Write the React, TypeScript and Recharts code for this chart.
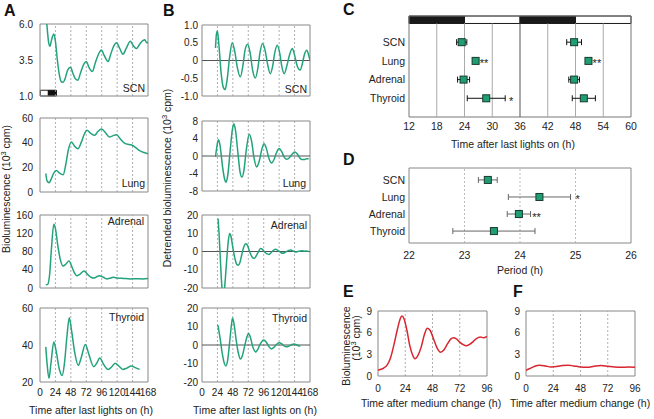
import React from 'react';
import {
  LineChart, Line, XAxis, YAxis, ReferenceArea, ReferenceLine,
  ScatterChart, Scatter, ErrorBar,
} from 'recharts';

const FONT = '"Liberation Sans", Arial, Helvetica, sans-serif';
const GREEN = '#22a37c';
const RED = '#d7262f';
const MARK = '#1f9e74';
const TXT = '#222';
const MT = 8, MR = 14, MB = 6;

type Pt = [number, number];

// ---------- Panel A: raw bioluminescence (h, 10^3 cpm) ----------
const scnRaw: Pt[] = [[10, 6.3], [12, 5.3], [13.5, 4.7], [15.5, 4.45], [18, 4.9], [21.5, 5.3], [24, 4.8], [27, 3.5], [30, 2.5], [33, 2.0], [36, 1.95], [39, 2.2], [43, 2.8], [47.5, 3.0], [51, 2.6], [55, 2.2], [59, 2.1], [63, 2.6], [68, 3.2], [72, 3.4], [76, 3.0], [81.5, 2.7], [86, 3.3], [91, 3.9], [95.5, 4.2], [100, 3.8], [106, 3.4], [110, 3.9], [115, 4.5], [119, 4.7], [124, 4.3], [129, 3.9], [134, 4.3], [140.5, 4.8], [145, 4.5], [150, 4.3], [155, 4.6], [160, 4.85], [163, 4.9], [166, 4.7], [168, 4.75]];
const lungRaw: Pt[] = [[9, 15], [11, 9], [14, 7.5], [17, 10], [21, 15], [25.5, 17.5], [30, 15.5], [36, 14], [40, 22], [44, 34], [49, 40.5], [54, 37], [59, 35], [64, 40], [69, 47], [73, 50], [79, 47.5], [85, 46], [90, 49], [96, 51], [102, 48], [108, 44.6], [113, 45.5], [119, 46.5], [125, 43], [132, 39.5], [139, 38.5], [145, 37.5], [150, 35.5], [155, 33.5], [162, 32], [168, 31]];
const adrenalRaw: Pt[] = [[9, 7], [12, 8], [15, 30], [18, 90], [21.5, 140], [24, 130], [28, 90], [32, 60], [36, 48], [40, 52], [45, 59], [50, 45], [54, 32], [57, 27], [62, 30], [68.5, 37], [74, 30], [80, 23], [84, 22], [92, 27], [98, 24], [104, 20], [110, 22], [114, 23.5], [120, 22], [130, 21], [140, 20], [150, 20.5], [160, 20], [168, 21]];
const thyroidRaw: Pt[] = [[9, 39], [11, 30], [14, 22], [17, 30], [21.5, 41.6], [25, 37], [30, 27], [34.5, 23.5], [38, 30], [42, 45], [45.5, 54.7], [49, 48], [54, 36], [59.5, 29], [64, 33], [70.5, 40.3], [76, 35], [83.5, 28.3], [88, 30], [93, 33], [99, 29.5], [106, 26.8], [111, 28], [117, 30.2], [123, 28.5], [129, 26.8], [135, 27.5], [142, 28.7], [148, 27.8], [155, 26.8]];

// ---------- Panel B: detrended ----------
const scnDet: Pt[] = [[21, 0.35], [22.5, 0.75], [24, 0.83], [26, 0.5], [30, -0.4], [33, -0.75], [36, -0.82], [39, -0.55], [43, 0.1], [47, 0.5], [51, 0.25], [55, -0.2], [59.5, -0.46], [64, -0.1], [67, 0.3], [71, 0.46], [75, 0.2], [79, -0.3], [83, -0.49], [87, -0.2], [90, 0.2], [94, 0.48], [98, 0.3], [102, -0.1], [106, -0.37], [110, -0.15], [113, 0.2], [117, 0.43], [121, 0.2], [124, -0.15], [128, -0.37], [132, -0.15], [136, 0.15], [140.5, 0.34], [144, 0.15], [148, -0.15], [152.5, -0.27], [156, -0.1], [159, 0.15], [163, 0.29], [166, 0.15], [168, 0]];
const lungDet: Pt[] = [[21, -0.2], [23, 2], [25.5, 3.7], [28, 2.5], [32, -2.5], [35, -5.2], [37.5, -6], [40, -4.5], [44, 1.5], [47, 5.8], [49.5, 7.4], [52, 6], [56, 0.5], [59, -3.5], [62, -4.8], [65, -3.5], [69, 1.5], [73.5, 5], [77, 3.5], [81, -0.5], [85, -2.5], [89, -1.2], [93, 1.5], [96.5, 2.8], [100, 1.8], [104, -0.5], [108.5, -1.6], [112, -0.8], [116, 0.8], [120, 1.7], [124, 1.0], [128, -0.3], [132, -0.76], [136, -0.4], [140, 0.4], [144.5, 0.9], [148, 0.5], [152, -0.4], [155, -0.8], [159, -0.8], [163, -0.6], [166, -0.6]];
const adrenalDet: Pt[] = [[25, 18], [26.5, 10], [28.5, -4], [30.5, -17], [32.5, -24], [34.5, -22], [36.5, -14], [39, -2], [41, 6], [43, 9.9], [45, 8.5], [48, 2], [51, -3.5], [54, -7], [56.5, -7.6], [59, -6], [62, -1.5], [65, 2.5], [68, 4.3], [71, 3.2], [74, 0], [77.5, -2.8], [81, -3.8], [84, -2.6], [87.5, -0.3], [91, 1.6], [94, 1.2], [97, -0.2], [100.5, -1.2], [104, -1.6], [107, -0.8], [110, 0.3], [114, 1.2], [117, 0.9], [120, 0], [123, -0.7], [126, -1], [129, -0.5], [132, 0.1], [135, 0.6], [138, 0.8], [141, 0.4], [144, -0.2], [147, -0.3], [150, 0.1], [153, 0.3], [156, 0.4], [159, 0.2], [162, 0.3], [166, 0]];
const thyroidDet: Pt[] = [[24, 10], [25, 10.5], [26, 8.2], [28, 4], [31, -3.5], [34, -9], [37, -11.3], [40, -8], [43, 1.5], [45.5, 10], [47.5, 14.6], [50, 11], [53, 3], [56, -3.5], [60, -7.6], [63, -5.5], [67, 0.5], [70, 4.5], [72.5, 6.2], [75, 4.5], [79, -1], [83.5, -3.8], [87, -2.2], [91, 0.8], [96, 2.7], [100, 1.5], [104, -0.8], [108, -2.1], [112, -1.2], [116, 0.3], [120, 1.2], [124, 0.6], [127, -0.3], [131, -1], [135, -0.6], [139, 0.1], [143, 0.6], [147, 0.2], [150, -0.4], [153, -0.6]];

// ---------- Panels E/F: medium change ----------
const mediumE: Pt[] = [[0, 0.8], [2, 0.9], [5, 1.1], [8, 1.5], [11, 2.5], [14, 4.3], [17, 6.4], [19.5, 7.9], [21, 8.3], [23, 7.9], [25.5, 6.3], [28, 4.2], [30.5, 2.9], [32.5, 2.4], [35, 2.8], [38, 4.0], [41, 5.8], [43.5, 6.6], [46, 6.3], [49, 5.1], [52, 3.9], [55, 3.3], [58, 3.6], [61, 4.4], [64, 5.1], [66.5, 5.3], [69, 5.15], [72, 4.7], [75, 4.35], [78, 4.2], [81, 4.4], [84, 4.8], [87, 5.2], [90, 5.4], [93, 5.3], [96, 5.5]];
const mediumF: Pt[] = [[0, 0.8], [3, 1.0], [7, 1.3], [12, 1.5], [17, 1.4], [22, 1.25], [27, 1.3], [32, 1.45], [37, 1.5], [42, 1.4], [48, 1.25], [54, 1.2], [60, 1.35], [66, 1.45], [72, 1.35], [78, 1.25], [84, 1.2], [90, 1.25], [96, 1.2]];

// ---------- Panels C/D ----------
const organs = ['SCN', 'Lung', 'Adrenal', 'Thyroid'];
const peak1 = [23.4, 26.4, 23.8, 28.7];
const peak1Err = [1.1, 0.3, 1.3, 4.1];
const peak2 = [47.7, 50.8, 47.7, 49.8];
const peak2Err = [1.6, 0.3, 1.15, 2.5];
const periodMean = [23.42, 24.35, 23.98, 23.53];
const periodErr = [0.17, 0.56, 0.21, 0.74];
const starsC = [{ x: 27.3, y: 2, mark: '**' }, { x: 51.7, y: 2, mark: '**' }, { x: 33.6, y: 4, mark: '*' }];
const starsD = [{ x: 25.0, y: 2, mark: '*' }, { x: 24.22, y: 3, mark: '**' }];

const timeTicks = [0, 24, 48, 72, 96, 120, 144, 168];
const timeGrid = [24, 48, 72, 96, 120, 144];
const phaseTicks = [12, 18, 24, 30, 36, 42, 48, 54, 60];
const phaseGrid = [18, 24, 30, 42, 48, 54];
const periodTicks = [22, 23, 24, 25, 26];
const periodGrid = [23, 24, 25];
const mediumTicks = [0, 24, 48, 72, 96];
const mediumGrid = [24, 48, 72];
const mediumYTicks = [0, 3, 6, 9];

const rows = (pts: Pt[]) => pts.map(([h, v]) => ({ h, v }));
const tickStyle = { fontSize: 10, fill: TXT, fontFamily: FONT };

interface PanelProps {
  x0: number; y0: number; x1: number; y1: number;
  pts: Pt[];
  xDomain: [number, number]; xTicks: number[]; showX: boolean; xTm?: number;
  yDomain: [number, number]; yTicks: number[]; yTm: number; yw: number;
  yFmt?: (v: number) => string;
  grid: number[]; color: string; zero?: boolean; extra?: React.ReactNode[];
}

function TracePanel(p: PanelProps) {
  const xh = p.showX ? 22 : 0;
  const W = p.x1 - p.x0 + p.yw + MR;
  const H = p.y1 - p.y0 + MT + xh + MB;
  return (
    <div style={{ position: 'absolute', left: p.x0 - p.yw, top: p.y0 - MT }}>
      <LineChart width={W} height={H} data={rows(p.pts)} margin={{ top: MT, right: MR, bottom: MB, left: 0 }}>
        <XAxis type="number" dataKey="h" domain={p.xDomain} ticks={p.xTicks} allowDataOverflow
          height={xh} tick={p.showX ? tickStyle : false} tickLine={false} axisLine={false}
          tickSize={0} tickMargin={p.xTm ?? 7} interval={0} />
        <YAxis type="number" domain={p.yDomain} ticks={p.yTicks} allowDataOverflow width={p.yw}
          tick={tickStyle} tickLine={false} axisLine={false} tickSize={0} tickMargin={p.yTm}
          interval={0} tickFormatter={p.yFmt} />
        {p.grid.map((g) => (
          <ReferenceLine key={'g' + g} x={g} stroke="#9a9a9a" strokeDasharray="2 2" strokeWidth={0.8} />
        ))}
        {p.zero ? <ReferenceLine y={0} stroke="#555" strokeWidth={1} /> : null}
        {p.extra ?? null}
        <ReferenceArea x1={p.xDomain[0]} x2={p.xDomain[1]} y1={p.yDomain[0]} y2={p.yDomain[1]}
          fill="none" fillOpacity={0} stroke="#888" strokeWidth={1} ifOverflow="visible" />
        <Line type="monotone" dataKey="v" stroke={p.color} strokeWidth={1.5} dot={false}
          isAnimationActive={false} />
      </LineChart>
    </div>
  );
}

const Square = (props: any) => {
  const { cx, cy } = props;
  if (cx == null || cy == null) return <g />;
  return <rect x={cx - 3.5} y={cy - 3.5} width={7} height={7} fill={MARK} stroke="#183a2b" strokeWidth={1} />;
};
const Star = (props: any) => {
  const { cx, cy, payload } = props;
  if (cx == null || cy == null) return <g />;
  return <text x={cx} y={cy + 6.5} fontSize={11} fill={TXT} fontFamily={FONT}>{payload.mark}</text>;
};

const fmt1 = (v: number) => v.toFixed(1);
const fmtB = (v: number) => (v === 0 ? '0' : v.toFixed(1));
const orgFmt = (v: number) => organs[v - 1] ?? '';

function PanelC() {
  const x0 = 409, x1 = 631, y0 = 16, y1 = 117, yw = 69, xh = 24;
  const r1 = organs.map((o, i) => ({ x: peak1[i], y: i + 1, e: peak1Err[i] }));
  const r2 = organs.map((o, i) => ({ x: peak2[i], y: i + 1, e: peak2Err[i] }));
  return (
    <div style={{ position: 'absolute', left: x0 - yw, top: y0 - MT }}>
      <ScatterChart width={x1 - x0 + yw + MR} height={y1 - y0 + MT + xh + MB} margin={{ top: MT, right: MR, bottom: MB, left: 0 }}>
        <XAxis type="number" dataKey="x" domain={[12, 60]} ticks={phaseTicks} height={xh}
          tick={{ ...tickStyle, fontSize: 10.5 }} tickLine={false} axisLine={false} tickSize={0} tickMargin={6} interval={0} />
        <YAxis type="number" dataKey="y" domain={[-0.4, 5]} reversed ticks={[1, 2, 3, 4]} width={yw}
          tick={{ ...tickStyle, fontSize: 10.5 }} tickLine={false} axisLine={false} tickSize={0} tickMargin={4}
          interval={0} tickFormatter={orgFmt} />
        {phaseGrid.map((g) => (
          <ReferenceLine key={'c' + g} segment={[{ x: g, y: 0 }, { x: g, y: 5 }]} stroke="#aaa" strokeWidth={1} />
        ))}
        <ReferenceLine segment={[{ x: 36, y: 0 }, { x: 36, y: 5 }]} stroke="#555" strokeWidth={1} />
        <ReferenceArea x1={12} x2={24} y1={-0.4} y2={0} fill="#1a1a1a" fillOpacity={1} stroke="#1a1a1a" />
        <ReferenceArea x1={24} x2={36} y1={-0.4} y2={0} fill="#fff" fillOpacity={1} stroke="#1a1a1a" />
        <ReferenceArea x1={36} x2={48} y1={-0.4} y2={0} fill="#1a1a1a" fillOpacity={1} stroke="#1a1a1a" />
        <ReferenceArea x1={48} x2={60} y1={-0.4} y2={0} fill="#fff" fillOpacity={1} stroke="#1a1a1a" />
        <ReferenceArea x1={12} x2={60} y1={-0.4} y2={5} fill="none" fillOpacity={0} stroke="#777" ifOverflow="visible" />
        <Scatter data={r1} shape={Square} isAnimationActive={false}>
          <ErrorBar dataKey="e" direction="x" width={3} stroke="#111" strokeWidth={1} isAnimationActive={false} />
        </Scatter>
        <Scatter data={r2} shape={Square} isAnimationActive={false}>
          <ErrorBar dataKey="e" direction="x" width={3} stroke="#111" strokeWidth={1} isAnimationActive={false} />
        </Scatter>
        <Scatter data={starsC} shape={Star} isAnimationActive={false} />
      </ScatterChart>
    </div>
  );
}

function PanelD() {
  const x0 = 409, x1 = 631, y0 = 168, y1 = 243, yw = 69, xh = 24;
  const r = organs.map((o, i) => ({ x: periodMean[i], y: i + 1, e: periodErr[i] }));
  return (
    <div style={{ position: 'absolute', left: x0 - yw, top: y0 - MT }}>
      <ScatterChart width={x1 - x0 + yw + MR} height={y1 - y0 + MT + xh + MB} margin={{ top: MT, right: MR, bottom: MB, left: 0 }}>
        <XAxis type="number" dataKey="x" domain={[22, 26]} ticks={periodTicks} height={xh}
          tick={{ ...tickStyle, fontSize: 10.5 }} tickLine={false} axisLine={false} tickSize={0} tickMargin={9} interval={0} />
        <YAxis type="number" dataKey="y" domain={[0.3, 4.7]} reversed ticks={[1, 2, 3, 4]} width={yw}
          tick={{ ...tickStyle, fontSize: 10.5 }} tickLine={false} axisLine={false} tickSize={0} tickMargin={4}
          interval={0} tickFormatter={orgFmt} />
        {periodGrid.map((g) => (
          <ReferenceLine key={'d' + g} x={g} stroke="#aaa" strokeDasharray="2 2" strokeWidth={0.8} />
        ))}
        <ReferenceArea x1={22} x2={26} y1={0.3} y2={4.7} fill="none" fillOpacity={0} stroke="#888" ifOverflow="visible" />
        <Scatter data={r} shape={Square} isAnimationActive={false}>
          <ErrorBar dataKey="e" direction="x" width={3} stroke="#666" strokeWidth={1} isAnimationActive={false} />
        </Scatter>
        <Scatter data={starsD} shape={Star} isAnimationActive={false} />
      </ScatterChart>
    </div>
  );
}

const Sup = ({ pre, post }: { pre: string; post: string }) => (
  <>
    {pre}
    <tspan dy={-4} fontSize={7.5}>3</tspan>
    <tspan dy={4}>{post}</tspan>
  </>
);

function Overlay() {
  const lt = { fontFamily: FONT, fontSize: 16, fontWeight: 700, fill: '#111' } as const;
  const at = { fontFamily: FONT, fontSize: 10.5, fill: TXT } as const;
  return (
    <svg width={654} height={419} style={{ position: 'absolute', left: 0, top: 0, pointerEvents: 'none' }}>
      <text x={4} y={16} {...lt}>A</text>
      <text x={163} y={16} {...lt}>B</text>
      <text x={343} y={15} {...lt}>C</text>
      <text x={343} y={165} {...lt}>D</text>
      <text x={343} y={297} {...lt}>E</text>
      <text x={513} y={297} {...lt}>F</text>

      <text x={145} y={92} textAnchor="end" {...at}>SCN</text>
      <text x={145} y={187} textAnchor="end" {...at}>Lung</text>
      <text x={144} y={225} textAnchor="end" {...at}>Adrenal</text>
      <text x={144} y={321} textAnchor="end" {...at}>Thyroid</text>
      <text x={307} y={93} textAnchor="end" {...at}>SCN</text>
      <text x={306} y={187} textAnchor="end" {...at}>Lung</text>
      <text x={307} y={229} textAnchor="end" {...at}>Adrenal</text>
      <text x={307} y={322} textAnchor="end" {...at}>Thyroid</text>

      <text transform="translate(10,189) rotate(-90)" textAnchor="middle" {...at}>
        <Sup pre="Bioluminescence (10" post=" cpm)" />
      </text>
      <text transform="translate(171,178) rotate(-90)" textAnchor="middle" {...at}>
        <Sup pre="Detrended bioluminescence (10" post=" cpm)" />
      </text>
      <text transform="translate(350,346) rotate(-90)" textAnchor="middle" {...at}>Bioluminescence</text>
      <text transform="translate(360,338) rotate(-90)" textAnchor="middle" {...at}>
        <Sup pre="(10" post=" cpm)" />
      </text>

      <text x={91} y={414} textAnchor="middle" {...at}>Time after last lights on (h)</text>
      <text x={255} y={414} textAnchor="middle" {...at}>Time after last lights on (h)</text>
      <text x={513} y={148} textAnchor="middle" {...at}>Time after last lights on (h)</text>
      <text x={520} y={274} textAnchor="middle" {...at}>Period (h)</text>
      <text x={431} y={407} textAnchor="middle" {...at}>Time after medium change (h)</text>
      <text x={580} y={407} textAnchor="middle" {...at}>Time after medium change (h)</text>
    </svg>
  );
}

export default function App() {
  const A = { x0: 40, x1: 148, xDomain: [0, 168] as [number, number], xTicks: timeTicks, grid: timeGrid, color: GREEN, yw: 40, yTm: 7 };
  const B = { x0: 202, x1: 310, xDomain: [0, 168] as [number, number], xTicks: timeTicks, grid: timeGrid, color: GREEN, yw: 30, yTm: 4, zero: true };
  const ldBar = [
    <ReferenceArea key="w" x1={0.5} x2={13} y1={1.0} y2={1.4} fill="#fff" fillOpacity={1} stroke="#222" ifOverflow="visible" />,
    <ReferenceArea key="b" x1={13} x2={25.5} y1={1.0} y2={1.4} fill="#111" fillOpacity={1} stroke="#111" ifOverflow="visible" />,
  ];
  return (
    <div style={{ position: 'absolute', left: 0, top: 0, width: 654, height: 419, background: '#fff', fontFamily: FONT }}>
      <TracePanel {...A} y0={24} y1={96} pts={scnRaw} showX={false} yDomain={[1, 6]} yTicks={[1, 3.5, 6]} yFmt={fmt1} extra={ldBar} />
      <TracePanel {...A} y0={118} y1={192} pts={lungRaw} showX={false} yDomain={[0, 60]} yTicks={[0, 20, 40, 60]} />
      <TracePanel {...A} y0={215} y1={288} pts={adrenalRaw} showX={false} yDomain={[0, 160]} yTicks={[0, 40, 80, 120, 160]} />
      <TracePanel {...A} y0={308} y1={382} pts={thyroidRaw} showX={true} yDomain={[20, 60]} yTicks={[20, 40, 60]} />

      <TracePanel {...B} y0={25} y1={96} pts={scnDet} showX={false} yDomain={[-1, 1]} yTicks={[-1, -0.5, 0, 0.5, 1]} yFmt={fmtB} />
      <TracePanel {...B} y0={121} y1={191} pts={lungDet} showX={false} yDomain={[-8, 8]} yTicks={[-8, -4, 0, 4, 8]} />
      <TracePanel {...B} y0={215} y1={288} pts={adrenalDet} showX={false} yDomain={[-20, 20]} yTicks={[-20, -10, 0, 10, 20]} />
      <TracePanel {...B} y0={308} y1={382} pts={thyroidDet} showX={true} yDomain={[-20, 20]} yTicks={[-20, -10, 0, 10, 20]} />

      <PanelC />
      <PanelD />

      <TracePanel x0={378} x1={487} y0={311} y1={376} pts={mediumE} xDomain={[0, 96]} xTicks={mediumTicks} showX={true} xTm={9}
        yDomain={[0, 9]} yTicks={mediumYTicks} yTm={6} yw={20} grid={mediumGrid} color={RED} />
      <TracePanel x0={526} x1={635} y0={311} y1={376} pts={mediumF} xDomain={[0, 96]} xTicks={mediumTicks} showX={true} xTm={9}
        yDomain={[0, 9]} yTicks={mediumYTicks} yTm={6} yw={20} grid={mediumGrid} color={RED} />

      <Overlay />
    </div>
  );
}
